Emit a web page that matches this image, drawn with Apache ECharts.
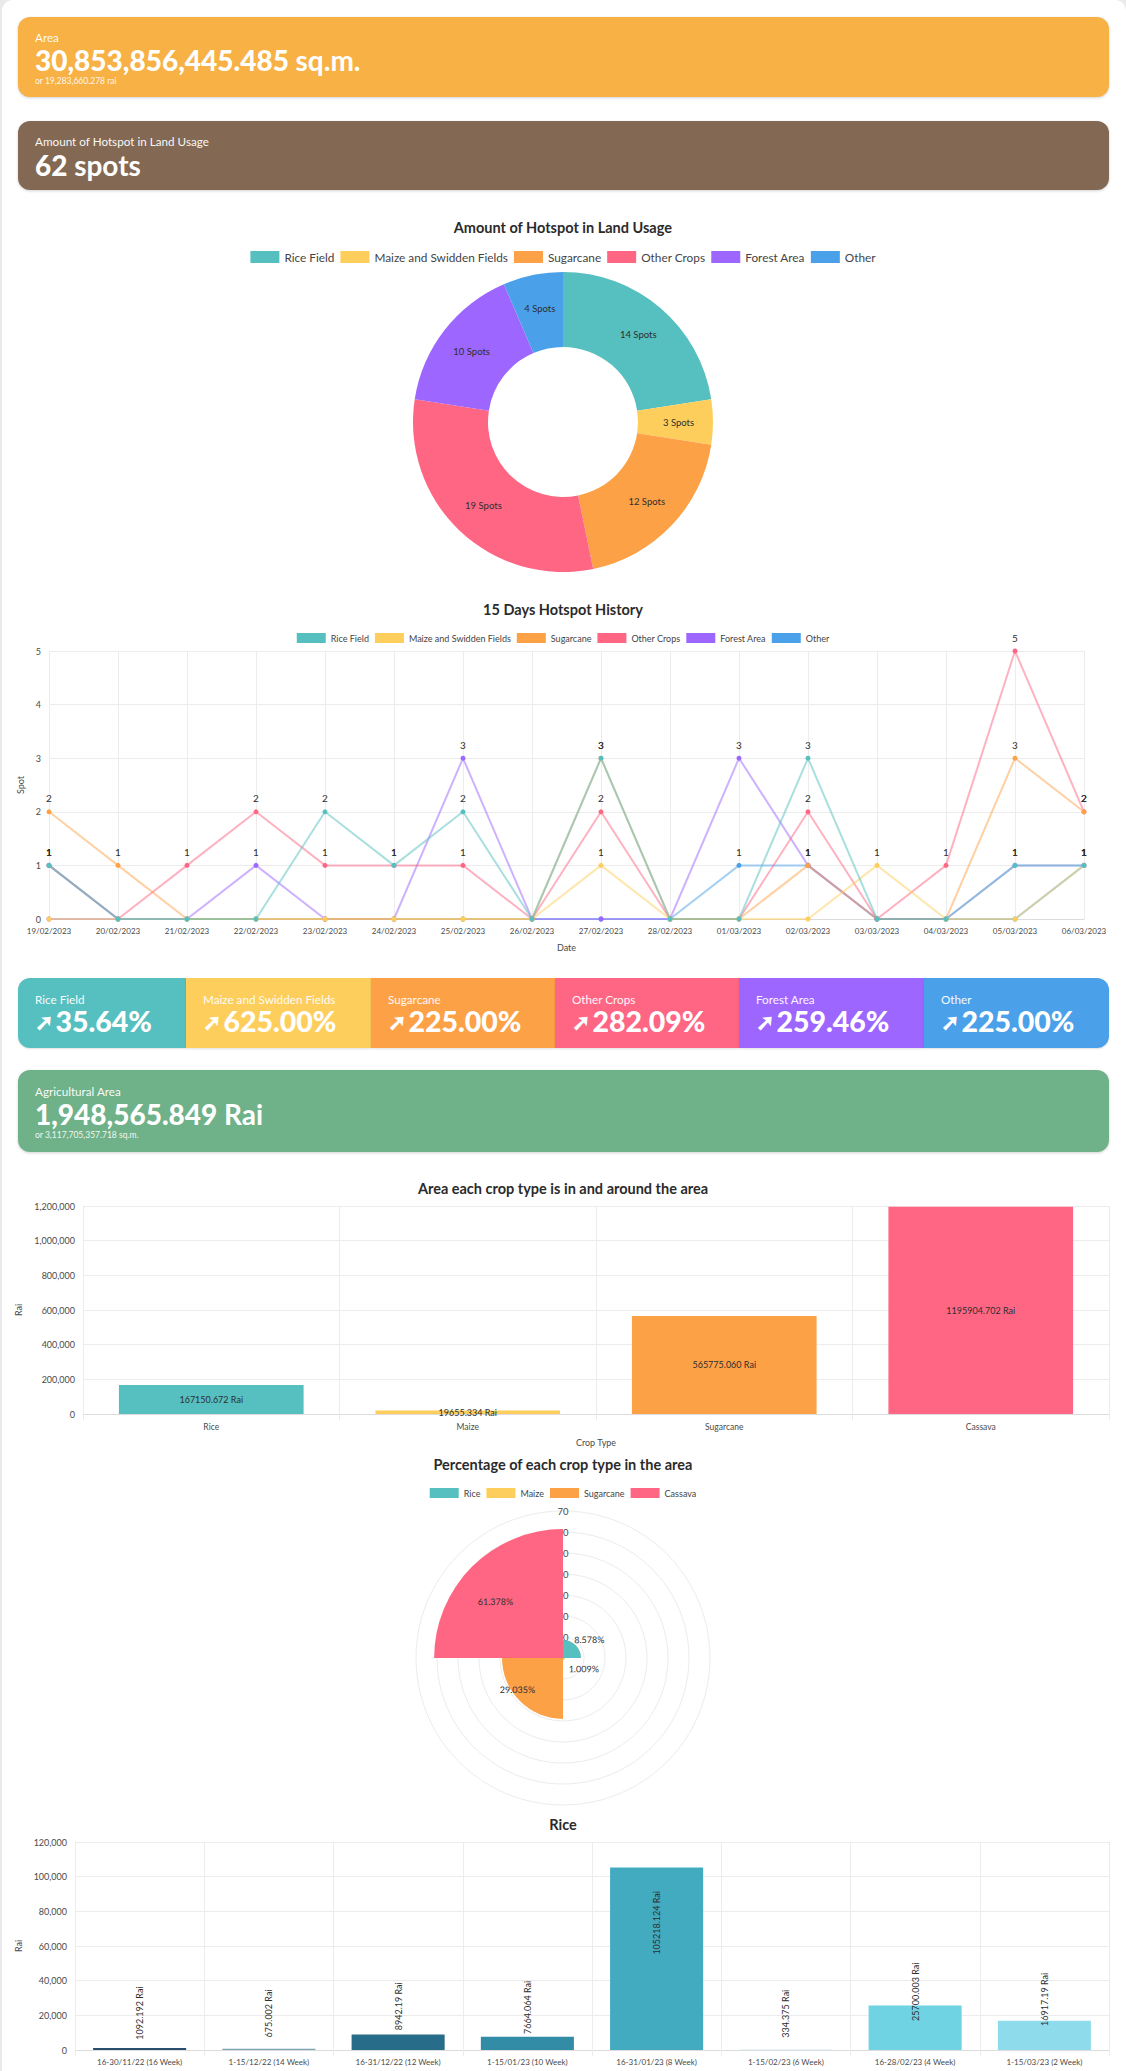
<!DOCTYPE html>
<html>
<head>
<meta charset="utf-8">
<script src="https://cdn.jsdelivr.net/npm/echarts@6/dist/echarts.min.js"></script>
<style>
html,body{margin:0;padding:0;background:#eaeaea;width:1126px;height:2071px;overflow:hidden;font-family:Lato,sans-serif;}
#panel{position:absolute;left:2px;top:0;width:1124px;height:2071px;background:#fff;border-radius:11px 11px 0 0;}
#chart{position:absolute;left:0;top:0;width:1126px;height:2071px;}
.card{position:absolute;left:18px;width:1091px;border-radius:12px;color:#fff;box-shadow:0 1px 3px rgba(0,0,0,.18);box-sizing:border-box;}
.t{position:absolute;white-space:nowrap;color:#fff;}
.lab{font-size:11.7px;font-weight:400;opacity:.95;}
.big{font-size:28px;font-weight:900;line-height:30px;}
.big small{font-size:28px;font-weight:700;}
.sub{font-size:8.5px;opacity:.9;}
.tile{position:absolute;top:978px;height:70px;}
.arrow{font-family:"DejaVu Sans";font-weight:700;font-size:22px;position:relative;top:-2px;margin-right:2px;-webkit-text-stroke:1px #fff;}
</style>
</head>
<body>
<div id="panel"></div>
<div id="chart"></div>
<div id="cards"></div>
<script>
// ---- text of the cards
const areaText = ["Area", "30,853,856,445.485", "sq.m.", "or 19,283,660.278 rai"];
const spotText = ["Amount of Hotspot in Land Usage", "62", "spots"];
const agriText = ["Agricultural Area", "1,948,565.849", "Rai", "or 3,117,705,357.718 sq.m."];
const landNames = ["Rice Field", "Maize and Swidden Fields", "Sugarcane", "Other Crops", "Forest Area", "Other"];
const landChange = ["35.64%", "625.00%", "225.00%", "282.09%", "259.46%", "225.00%"];
const landSpots = [14, 3, 12, 19, 10, 4];

// ---- 15 days history
const dates = ["19/02/2023","20/02/2023","21/02/2023","22/02/2023","23/02/2023","24/02/2023","25/02/2023","26/02/2023","27/02/2023","28/02/2023","01/03/2023","02/03/2023","03/03/2023","04/03/2023","05/03/2023","06/03/2023"];
const histRice   = [1,0,0,0,2,1,2,0,3,0,0,3,0,0,1,1];
const histMaize  = [0,0,0,0,0,0,0,0,1,0,0,0,1,0,0,1];
const histSugar  = [2,1,0,0,0,0,0,0,3,0,0,1,0,0,3,2];
const histCrops  = [1,0,1,2,1,1,1,0,2,0,0,2,0,1,5,2];
const histForest = [0,0,0,1,0,0,3,0,0,0,3,1,0,0,1,1];
const histOther  = [1,0,0,0,0,0,0,0,0,0,1,1,0,0,0,1];

// ---- crops
const cropNames = ["Rice", "Maize", "Sugarcane", "Cassava"];
const cropArea = [167150.672, 19655.334, 565775.060, 1195904.702];
const cropAreaLabels = ["167150.672", "19655.334", "565775.060", "1195904.702"];
const cropShare = [8.578, 1.009, 29.035, 61.378];
const riceRounds = ["16-30/11/22 (16 Week)","1-15/12/22 (14 Week)","16-31/12/22 (12 Week)","1-15/01/23 (10 Week)","16-31/01/23 (8 Week)","1-15/02/23 (6 Week)","16-28/02/23 (4 Week)","1-15/03/23 (2 Week)"];
const riceArea = [1092.192, 675.002, 8942.19, 7664.064, 105218.124, 334.375, 25700.003, 16917.19];

// ---- styles
const FONT = "Lato, sans-serif";
const palette = ["#56bfbf","#fdce5c","#fda147","#fe6684","#9d66fe","#4aa1ea"];
const riceColors = ["#2a4f6e","#7ea3b5","#276c89","#328ca6","#43abbf","#cfecf2","#70d3e3","#8edbeb"];
const polarOffsets = [[20,-12],[20,10],[-24,10],[-22,-11]];
const histAll = [histRice, histMaize, histSugar, histCrops, histForest, histOther];
const GRID = "#ececec", AXIS = "#dcdcdc", TXT = "#4a4a4a", DARK = "#2e2e2e";

// ---- cards (HTML)
function el(html){ document.getElementById("cards").insertAdjacentHTML("beforeend", html); }
function card(top, h, bg, txt, ys){
  let s = `<div class="card" style="top:${top}px;height:${h}px;background:${bg}"></div>`;
  s += `<div class="t lab" style="left:35px;top:${ys[0]}px">${txt[0]}</div>`;
  s += `<div class="t big" style="left:35px;top:${ys[1]}px">${txt[1]} <small>${txt[2]}</small></div>`;
  if (txt[3]) s += `<div class="t sub" style="left:35px;top:${ys[2]}px">${txt[3]}</div>`;
  el(s);
}
card(17, 80, "#f8b144", areaText, [30, 45, 76]);
card(121, 69, "#836953", spotText, [134, 150]);
card(1070, 82, "#6fb188", agriText, [1084, 1099, 1130]);
const tileX = [18, 186, 371, 555, 739, 924, 1109];
landNames.forEach((n, i) => {
  const r = i === 0 ? "border-radius:12px 0 0 12px;" : i === 5 ? "border-radius:0 12px 12px 0;" : "";
  const sh = "box-shadow:0 1px 2px rgba(0,0,0,.12);";
  el(`<div class="tile" style="left:${tileX[i]}px;width:${tileX[i+1]-tileX[i]}px;background:${palette[i]};${r}${sh}"></div>`);
  el(`<div class="t lab" style="left:${tileX[i]+17}px;top:992px">${n}</div>`);
  el(`<div class="t big" style="left:${tileX[i]+17}px;top:1006px;font-size:28.5px"><span class="arrow">➚</span>${landChange[i]}</div>`);
});

// ---- chart
const commonTitle = (text, top) => ({text, left:"center", top, textAlign:"left",
  textStyle:{fontFamily:FONT, fontSize:14.5, fontWeight:700, color:"#2b2b2b"}});
const legend = (data, top, size, w, h) => ({data, top, left:"center", icon:"rect", itemWidth:w, itemHeight:h, itemGap:6,
  selectedMode:false, textStyle:{fontFamily:FONT, fontSize:size, color:"#444"}});
const catAxis = (idx, data, gap, name, size) => ({gridIndex:idx, type:"category", data, boundaryGap:gap, name, nameLocation:"middle", nameGap:24,
  nameTextStyle:{fontFamily:FONT, fontSize:9, color:TXT},
  axisLine:{lineStyle:{color:AXIS}}, axisTick:{show:gap, length:6, lineStyle:{color:GRID}},
  splitLine:{show:true, lineStyle:{color:GRID}},
  axisLabel:{interval:0, hideOverlap:false, fontFamily:FONT, fontSize:size, color:TXT, margin:8}});
const valAxis = (idx, max, interval, name, nameGap) => ({gridIndex:idx, type:"value", min:0, max, interval, name, nameLocation:"middle", nameGap,
  nameTextStyle:{fontFamily:FONT, fontSize:9, color:TXT},
  axisLine:{show:true, lineStyle:{color:GRID}}, axisTick:{show:false},
  splitLine:{show:true, lineStyle:{color:GRID}},
  axisLabel:{fontFamily:FONT, fontSize:9, color:TXT, margin:8}});

const series = [];
series.push({type:"pie", center:[563,422], radius:[75,150], startAngle:90, clockwise:true, silent:true,
  data:landNames.map((n,i)=>({name:n, value:landSpots[i], itemStyle:{color:palette[i]}})),
  label:{position:"inside", formatter:"{c} Spots", fontFamily:FONT, fontSize:9.5, color:DARK},
  labelLine:{show:false}});
landNames.forEach((n,i)=>{
  series.push({type:"line", name:n, xAxisIndex:0, yAxisIndex:0, data:histAll[i], z:10-i, symbol:"circle", symbolSize:5,
    showAllSymbol:true, itemStyle:{color:palette[i]}, lineStyle:{width:2, color:palette[i], opacity:.5},
    label:{show:true, position:"top", distance:6, fontFamily:FONT, fontSize:10, color:DARK, formatter:p=>p.value?String(p.value):""}});
});
series.push({type:"bar", xAxisIndex:1, yAxisIndex:1, barCategoryGap:"28%", silent:true,
  data:cropArea.map((v,i)=>({value:v, itemStyle:{color:palette[i]}})),
  label:{show:true, position:"inside", fontFamily:FONT, fontSize:9, color:DARK,
    formatter:p=>cropAreaLabels[p.dataIndex]+" Rai"}});
cropNames.forEach((n,i)=>{
  series.push({type:"bar", name:n, coordinateSystem:"polar", stack:"share", barCategoryGap:"0%", silent:true,
    data:cropShare.map((v,j)=>j===i?v:"-"), itemStyle:{color:palette[i]},
    label:{show:true, position:"middle", rotate:0.001, offset:polarOffsets[i], fontFamily:FONT, fontSize:9, color:DARK,
      formatter:p=>p.value+"%"}});
});
series.push({type:"bar", xAxisIndex:2, yAxisIndex:2, barCategoryGap:"28%", silent:true,
  data:riceArea.map((v,i)=>({value:v, itemStyle:{color:riceColors[i]}})),
  label:{show:true, position:"inside", rotate:90, offset:[36,0], fontFamily:FONT, fontSize:9, color:DARK,
    formatter:p=>p.value+" Rai"}});

const option = {
  animation:false,
  backgroundColor:"transparent",
  title:[
    commonTitle("Amount of Hotspot in Land Usage", 215),
    commonTitle("15 Days Hotspot History", 597),
    commonTitle("Area each crop type is in and around the area", 1176),
    commonTitle("Percentage of each crop type in the area", 1452),
    commonTitle("Rice", 1812)
  ],
  legend:[
    legend(landNames, 246, 11.8, 29, 12),
    legend(landNames, 628, 9, 29, 10),
    legend(cropNames, 1483, 9, 29, 10)
  ],
  grid:[
    {left:49, right:42, top:651, height:268},
    {left:83, right:17, top:1206, height:208},
    {left:75, right:17, top:1842, height:208}
  ],
  xAxis:[catAxis(0,dates,false,"Date",8), catAxis(1,cropNames,true,"Crop Type",8.5), catAxis(2,riceRounds,true,"",8)],
  yAxis:[valAxis(0,5,1,"Spot",16), valAxis(1,1200000,200000,"Rai",45), valAxis(2,120000,20000,"Rai",36)],
  polar:{center:[563,1658], radius:[0,147]},
  angleAxis:{type:"category", data:cropNames, startAngle:90, clockwise:true, show:false, axisLine:{show:false}, splitLine:{show:false}, axisTick:{show:false}, axisLabel:{show:false}},
  radiusAxis:{min:0, max:70, interval:10, axisLine:{show:false}, axisTick:{show:false},
    splitLine:{show:true, lineStyle:{color:GRID}},
    axisLabel:{margin:0, align:"center", fontFamily:FONT, fontSize:9.5, color:TXT, formatter:v=>v?String(v):""}},
  series
};
const chart = echarts.init(document.getElementById("chart"), null, {renderer:"svg", width:1126, height:2071});
chart.setOption(option);
</script>
</body>
</html>
